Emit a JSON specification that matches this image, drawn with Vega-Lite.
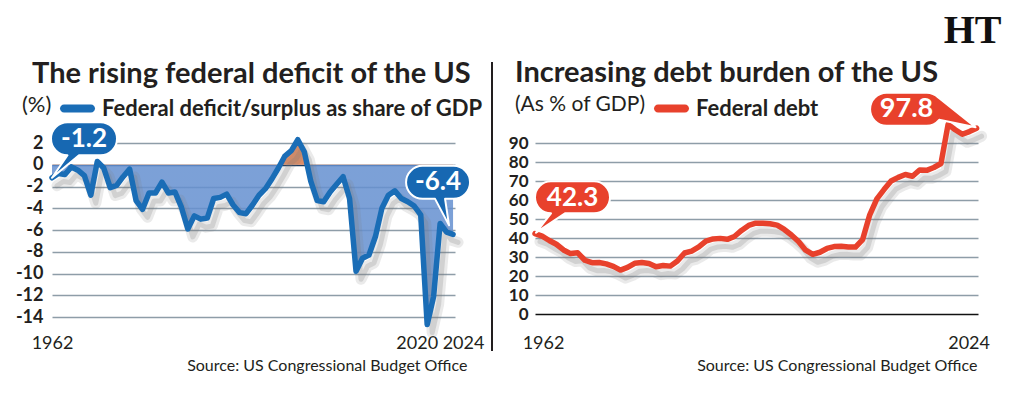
{
  "$schema": "https://vega.github.io/schema/vega-lite/v6.json",
  "background": "white",
  "padding": {"left": 15, "top": 11, "right": 5, "bottom": 5},
  "config": {
    "view": {"stroke": null},
    "font": "Lato",
    "title": {"font": "Lato", "color": "#231f20"},
    "axis": {"labelFont": "Lato", "titleFont": "Lato", "labelColor": "#231f20", "titleColor": "#231f20"},
    "legend": {"labelFont": "Lato", "titleFont": "Lato"}
  },
  "title": {"text": "HT", "anchor": "end", "font": "Liberation Serif", "fontSize": 40, "fontWeight": "bold", "color": "#111111", "dx": 12, "offset": 8},
  "bounds": "flush",
  "spacing": 80,
  "resolve": {"scale": {"color": "independent"}, "legend": {"color": "independent"}},
  "hconcat": [
    {
      "width": 403,
      "height": 174,
      "title": {"text": "The rising federal deficit of the US", "anchor": "start", "frame": "group", "dx": -20, "dy": 33, "fontSize": 29, "fontWeight": "bold", "offset": 6},
      "data": {"values": [
        {"year": 1962, "v": -1.2}, {"year": 1963, "v": -0.8}, {"year": 1964, "v": -0.9}, {"year": 1965, "v": -0.2},
        {"year": 1966, "v": -0.5}, {"year": 1967, "v": -1.0}, {"year": 1968, "v": -2.8}, {"year": 1969, "v": 0.3},
        {"year": 1970, "v": -0.3}, {"year": 1971, "v": -2.1}, {"year": 1972, "v": -1.9}, {"year": 1973, "v": -1.1},
        {"year": 1974, "v": -0.4}, {"year": 1975, "v": -3.3}, {"year": 1976, "v": -4.1}, {"year": 1977, "v": -2.6},
        {"year": 1978, "v": -2.6}, {"year": 1979, "v": -1.6}, {"year": 1980, "v": -2.6}, {"year": 1981, "v": -2.5},
        {"year": 1982, "v": -3.9}, {"year": 1983, "v": -5.9}, {"year": 1984, "v": -4.7}, {"year": 1985, "v": -5.0},
        {"year": 1986, "v": -4.9}, {"year": 1987, "v": -3.1}, {"year": 1988, "v": -3.0}, {"year": 1989, "v": -2.7},
        {"year": 1990, "v": -3.7}, {"year": 1991, "v": -4.4}, {"year": 1992, "v": -4.5}, {"year": 1993, "v": -3.7},
        {"year": 1994, "v": -2.8}, {"year": 1995, "v": -2.2}, {"year": 1996, "v": -1.3}, {"year": 1997, "v": -0.3},
        {"year": 1998, "v": 0.8}, {"year": 1999, "v": 1.3}, {"year": 2000, "v": 2.3}, {"year": 2001, "v": 1.2},
        {"year": 2002, "v": -1.5}, {"year": 2003, "v": -3.3}, {"year": 2004, "v": -3.4}, {"year": 2005, "v": -2.5},
        {"year": 2006, "v": -1.8}, {"year": 2007, "v": -1.1}, {"year": 2008, "v": -3.1}, {"year": 2009, "v": -9.8},
        {"year": 2010, "v": -8.6}, {"year": 2011, "v": -8.3}, {"year": 2012, "v": -6.6}, {"year": 2013, "v": -4.0},
        {"year": 2014, "v": -2.8}, {"year": 2015, "v": -2.4}, {"year": 2016, "v": -3.1}, {"year": 2017, "v": -3.4},
        {"year": 2018, "v": -3.8}, {"year": 2019, "v": -4.6}, {"year": 2020, "v": -14.7}, {"year": 2021, "v": -12.1},
        {"year": 2022, "v": -5.4}, {"year": 2023, "v": -6.2}, {"year": 2024, "v": -6.4}
      ]},
      "encoding": {
        "x": {
          "field": "year", "type": "quantitative",
          "scale": {"domain": [1962, 2024.3], "nice": false, "zero": false},
          "axis": {
            "values": [1962, 2020, 2024], "format": "d", "grid": false, "ticks": false, "domain": false, "tickCount": 20,
            "labelFontSize": 18, "labelPadding": 17, "labelOverlap": false, "labelFlush": false,
            "labelOffset": {"expr": "datum.value == 2020 ? -10.5 : (datum.value == 2024 ? 10 : 0)"},
            "title": "Source: US Congressional Budget Office", "titleFontSize": 16, "titleFontWeight": "normal",
            "titleAlign": "right", "titleX": 415, "titleY": 53, "titleBaseline": "alphabetic"
          }
        }
      },
      "layer": [
        {
          "mark": {
            "type": "area", "fillOpacity": 0.85,
            "fill": {"gradient": "linear", "x1": 0, "y1": 0, "x2": 0, "y2": 1,
              "stops": [{"offset": 0, "color": "#d97a4c"}, {"offset": 0.1353, "color": "#d97a4c"}, {"offset": 0.1353, "color": "#6590d0"}, {"offset": 1, "color": "#6590d0"}]}
          },
          "encoding": {
            "y": {
              "field": "v", "type": "quantitative",
              "scale": {"domain": [-14, 2], "nice": false, "zero": false},
              "axis": {
                "values": [-14, -12, -10, -8, -6, -4, -2, 0, 2], "tickCount": 20, "labelExpr": "'' + datum.value", "labelOverlap": false,
                "title": null, "ticks": false, "domain": false, "labelFontSize": 18, "labelFontWeight": "bold", "labelPadding": 9,
                "gridWidth": 1.5,
                "gridColor": {"condition": {"test": "datum.value === 0", "value": "#1d3a5c"}, "value": "#8e9da8"}
              }
            },
            "y2": {"datum": 0}
          }
        },
        {
          "mark": {"type": "line", "stroke": "#7a7a7a", "strokeWidth": 11, "opacity": 0.16, "xOffset": 5, "yOffset": 8, "strokeJoin": "round", "strokeCap": "round"},
          "encoding": {"y": {"field": "v", "type": "quantitative"}}
        },
        {
          "mark": {"type": "line", "stroke": "#7a7a7a", "strokeWidth": 5, "opacity": 0.22, "xOffset": 5, "yOffset": 8, "strokeJoin": "round", "strokeCap": "round"},
          "encoding": {"y": {"field": "v", "type": "quantitative"}}
        },
        {
          "mark": {"type": "line", "strokeWidth": 5.5, "strokeJoin": "round", "strokeCap": "round"},
          "encoding": {
            "y": {"field": "v", "type": "quantitative"},
            "color": {
              "datum": "Federal deficit/surplus as share of GDP", "type": "nominal",
              "scale": {"range": ["#1a6db6"]},
              "legend": {
                "orient": "none", "legendX": -30, "legendY": -52, "direction": "horizontal",
                "title": "(%)", "titleOrient": "left", "titleFontWeight": "normal", "titleFontSize": 22, "titleColor": "#231f20", "titlePadding": 8,
                "labelFontSize": 22, "labelFontWeight": "bold", "labelColor": "#231f20", "labelLimit": 0, "labelOffset": 7,
                "symbolType": "M -0.77 -0.23 L 0.77 -0.23 A 0.23 0.23 0 0 1 0.77 0.23 L -0.77 0.23 A 0.23 0.23 0 0 1 -0.77 -0.23 Z",
                "symbolSize": 1225, "symbolFillColor": "#1a6db6", "symbolStrokeColor": "#1a6db6", "symbolStrokeWidth": 0
              }
            }
          }
        },
        {
          "mark": {"type": "rule", "stroke": "#231f20", "strokeWidth": 1.5},
          "encoding": {"x": {"datum": 2030.0}, "y": {"datum": 9.4}, "y2": {"datum": -17.1}}
        },
        {
          "transform": [{"filter": "datum.year == 1962"}],
          "mark": {"type": "point", "shape": "M 15.5 -55.5 L 48.5 -55.5 A 16.5 16.5 0 0 1 48.5 -22.5 L 27 -22.5 L 0 0 L 15.5 -22.5 A 16.5 16.5 0 0 1 15.5 -55.5 Z", "size": 4, "filled": true, "fill": "#1768b2", "stroke": "white", "strokeWidth": 2, "strokeJoin": "round", "opacity": 1},
          "encoding": {"y": {"field": "v", "type": "quantitative"}}
        },
        {
          "transform": [{"filter": "datum.year == 1962"}],
          "mark": {"type": "text", "dx": 32, "dy": -39, "fontSize": 26, "fontWeight": "bold", "fill": "white", "align": "center", "baseline": "middle"},
          "encoding": {"y": {"field": "v", "type": "quantitative"}, "text": {"field": "v", "type": "nominal"}}
        },
        {
          "transform": [{"filter": "datum.year == 2024"}],
          "mark": {"type": "point", "shape": "M -30.5 -68.5 L 0.5 -68.5 A 16.5 16.5 0 0 1 0.5 -35.5 L -8 -35.5 L -4 -9 L -18 -35.5 L -30.5 -35.5 A 16.5 16.5 0 0 1 -30.5 -68.5 Z", "size": 4, "filled": true, "fill": "#1768b2", "stroke": "white", "strokeWidth": 2, "strokeJoin": "round", "opacity": 1},
          "encoding": {"y": {"field": "v", "type": "quantitative"}}
        },
        {
          "transform": [{"filter": "datum.year == 2024"}],
          "mark": {"type": "text", "dx": -15, "dy": -52, "fontSize": 26, "fontWeight": "bold", "fill": "white", "align": "center", "baseline": "middle"},
          "encoding": {"y": {"field": "v", "type": "quantitative"}, "text": {"field": "v", "type": "nominal"}}
        }
      ]
    },
    {
      "width": 443,
      "height": 171,
      "title": {"text": "Increasing debt burden of the US", "anchor": "start", "frame": "group", "dx": -20, "dy": 3, "fontSize": 29, "fontWeight": "bold", "offset": 6},
      "data": {"values": [
        {"year": 1962, "v": 42.3}, {"year": 1963, "v": 41.0}, {"year": 1964, "v": 38.7}, {"year": 1965, "v": 36.7},
        {"year": 1966, "v": 33.7}, {"year": 1967, "v": 31.8}, {"year": 1968, "v": 32.2}, {"year": 1969, "v": 28.3},
        {"year": 1970, "v": 27.0}, {"year": 1971, "v": 27.1}, {"year": 1972, "v": 26.4}, {"year": 1973, "v": 25.1},
        {"year": 1974, "v": 23.1}, {"year": 1975, "v": 24.5}, {"year": 1976, "v": 26.7}, {"year": 1977, "v": 27.1},
        {"year": 1978, "v": 26.6}, {"year": 1979, "v": 24.9}, {"year": 1980, "v": 25.5}, {"year": 1981, "v": 25.2},
        {"year": 1982, "v": 27.9}, {"year": 1983, "v": 32.1}, {"year": 1984, "v": 33.1}, {"year": 1985, "v": 35.3},
        {"year": 1986, "v": 38.4}, {"year": 1987, "v": 39.5}, {"year": 1988, "v": 39.8}, {"year": 1989, "v": 39.3},
        {"year": 1990, "v": 40.8}, {"year": 1991, "v": 44.0}, {"year": 1992, "v": 46.6}, {"year": 1993, "v": 47.8},
        {"year": 1994, "v": 47.7}, {"year": 1995, "v": 47.5}, {"year": 1996, "v": 46.8}, {"year": 1997, "v": 44.5},
        {"year": 1998, "v": 41.6}, {"year": 1999, "v": 38.2}, {"year": 2000, "v": 33.6}, {"year": 2001, "v": 31.4},
        {"year": 2002, "v": 32.5}, {"year": 2003, "v": 34.5}, {"year": 2004, "v": 35.5}, {"year": 2005, "v": 35.6},
        {"year": 2006, "v": 35.3}, {"year": 2007, "v": 35.2}, {"year": 2008, "v": 39.2}, {"year": 2009, "v": 52.2},
        {"year": 2010, "v": 60.6}, {"year": 2011, "v": 65.5}, {"year": 2012, "v": 70.0}, {"year": 2013, "v": 71.9},
        {"year": 2014, "v": 73.4}, {"year": 2015, "v": 72.5}, {"year": 2016, "v": 75.8}, {"year": 2017, "v": 75.6},
        {"year": 2018, "v": 77.1}, {"year": 2019, "v": 79.2}, {"year": 2020, "v": 99.8}, {"year": 2021, "v": 97.0},
        {"year": 2022, "v": 94.6}, {"year": 2023, "v": 96.0}, {"year": 2024, "v": 97.8}
      ]},
      "encoding": {
        "x": {
          "field": "year", "type": "quantitative",
          "scale": {"domain": [1962, 2024.2], "nice": false, "zero": false},
          "axis": {
            "values": [1962, 2024], "format": "d", "grid": false, "ticks": false, "domain": false, "tickCount": 20,
            "labelFontSize": 18, "labelPadding": 20, "labelOverlap": false, "labelFlush": false,
            "labelOffset": {"expr": "datum.value == 1962 ? 8 : -8"},
            "title": "Source: US Congressional Budget Office", "titleFontSize": 16, "titleFontWeight": "normal",
            "titleAlign": "right", "titleX": 442, "titleY": 56, "titleBaseline": "alphabetic"
          }
        }
      },
      "layer": [
        {
          "mark": {"type": "line", "stroke": "#7a7a7a", "strokeWidth": 11, "opacity": 0.16, "xOffset": 5, "yOffset": 8, "strokeJoin": "round", "strokeCap": "round"},
          "encoding": {
            "y": {
              "field": "v", "type": "quantitative",
              "scale": {"domain": [0, 90], "nice": false},
              "axis": {
                "values": [0, 10, 20, 30, 40, 50, 60, 70, 80, 90], "tickCount": 20, "labelOverlap": false,
                "title": null, "ticks": false, "domain": false, "labelFontSize": 17, "labelFontWeight": "bold", "labelPadding": 7,
                "gridWidth": 1.5,
                "gridColor": {"condition": {"test": "datum.value === 0", "value": "#111111"}, "value": "#8e9da8"}
              }
            }
          }
        },
        {
          "mark": {"type": "line", "stroke": "#7a7a7a", "strokeWidth": 5, "opacity": 0.22, "xOffset": 5, "yOffset": 8, "strokeJoin": "round", "strokeCap": "round"},
          "encoding": {"y": {"field": "v", "type": "quantitative"}}
        },
        {
          "mark": {"type": "line", "strokeWidth": 5.5, "strokeJoin": "round", "strokeCap": "round"},
          "encoding": {
            "y": {"field": "v", "type": "quantitative"},
            "color": {
              "datum": "Federal debt", "type": "nominal",
              "scale": {"range": ["#e8412c"]},
              "legend": {
                "orient": "none", "legendX": -20, "legendY": -52, "direction": "horizontal",
                "title": "(As % of GDP)", "titleOrient": "left", "titleFontWeight": "normal", "titleFontSize": 21, "titleColor": "#231f20", "titlePadding": 8,
                "labelFontSize": 22, "labelFontWeight": "bold", "labelColor": "#231f20", "labelLimit": 0, "labelOffset": 7,
                "symbolType": "M -0.77 -0.23 L 0.77 -0.23 A 0.23 0.23 0 0 1 0.77 0.23 L -0.77 0.23 A 0.23 0.23 0 0 1 -0.77 -0.23 Z",
                "symbolSize": 1225, "symbolFillColor": "#e8412c", "symbolStrokeColor": "#e8412c", "symbolStrokeWidth": 0
              }
            }
          }
        },
        {
          "transform": [{"filter": "datum.year == 1962"}],
          "mark": {"type": "point", "shape": "M 16 -52.3 L 59 -52.3 A 16 16 0 0 1 59 -20.3 L 30 -20.3 L 1 -1 L 16 -20.3 A 16 16 0 0 1 16 -52.3 Z", "size": 4, "filled": true, "fill": "#e8412c", "stroke": "white", "strokeWidth": 2, "strokeJoin": "round", "opacity": 1},
          "encoding": {"y": {"field": "v", "type": "quantitative"}}
        },
        {
          "transform": [{"filter": "datum.year == 1962"}],
          "mark": {"type": "text", "dx": 37.5, "dy": -36, "fontSize": 26, "fontWeight": "bold", "fill": "white", "align": "center", "baseline": "middle"},
          "encoding": {"y": {"field": "v", "type": "quantitative"}, "text": {"field": "v", "type": "nominal"}}
        },
        {
          "transform": [{"filter": "datum.year == 2024"}],
          "mark": {"type": "point", "shape": "M -90 -35.5 L -50 -35.5 A 16.5 16.5 0 0 1 -38.3 -30.7 L -1 -1 L -37.4 -8.4 A 16.5 16.5 0 0 1 -50 -2.5 L -90 -2.5 A 16.5 16.5 0 0 1 -90 -35.5 Z", "size": 4, "filled": true, "fill": "#e8412c", "stroke": "white", "strokeWidth": 2, "strokeJoin": "round", "opacity": 1},
          "encoding": {"y": {"field": "v", "type": "quantitative"}}
        },
        {
          "transform": [{"filter": "datum.year == 2024"}],
          "mark": {"type": "text", "dx": -70, "dy": -19, "fontSize": 27, "fontWeight": "bold", "fill": "white", "align": "center", "baseline": "middle"},
          "encoding": {"y": {"field": "v", "type": "quantitative"}, "text": {"field": "v", "type": "nominal"}}
        }
      ]
    }
  ]
}
